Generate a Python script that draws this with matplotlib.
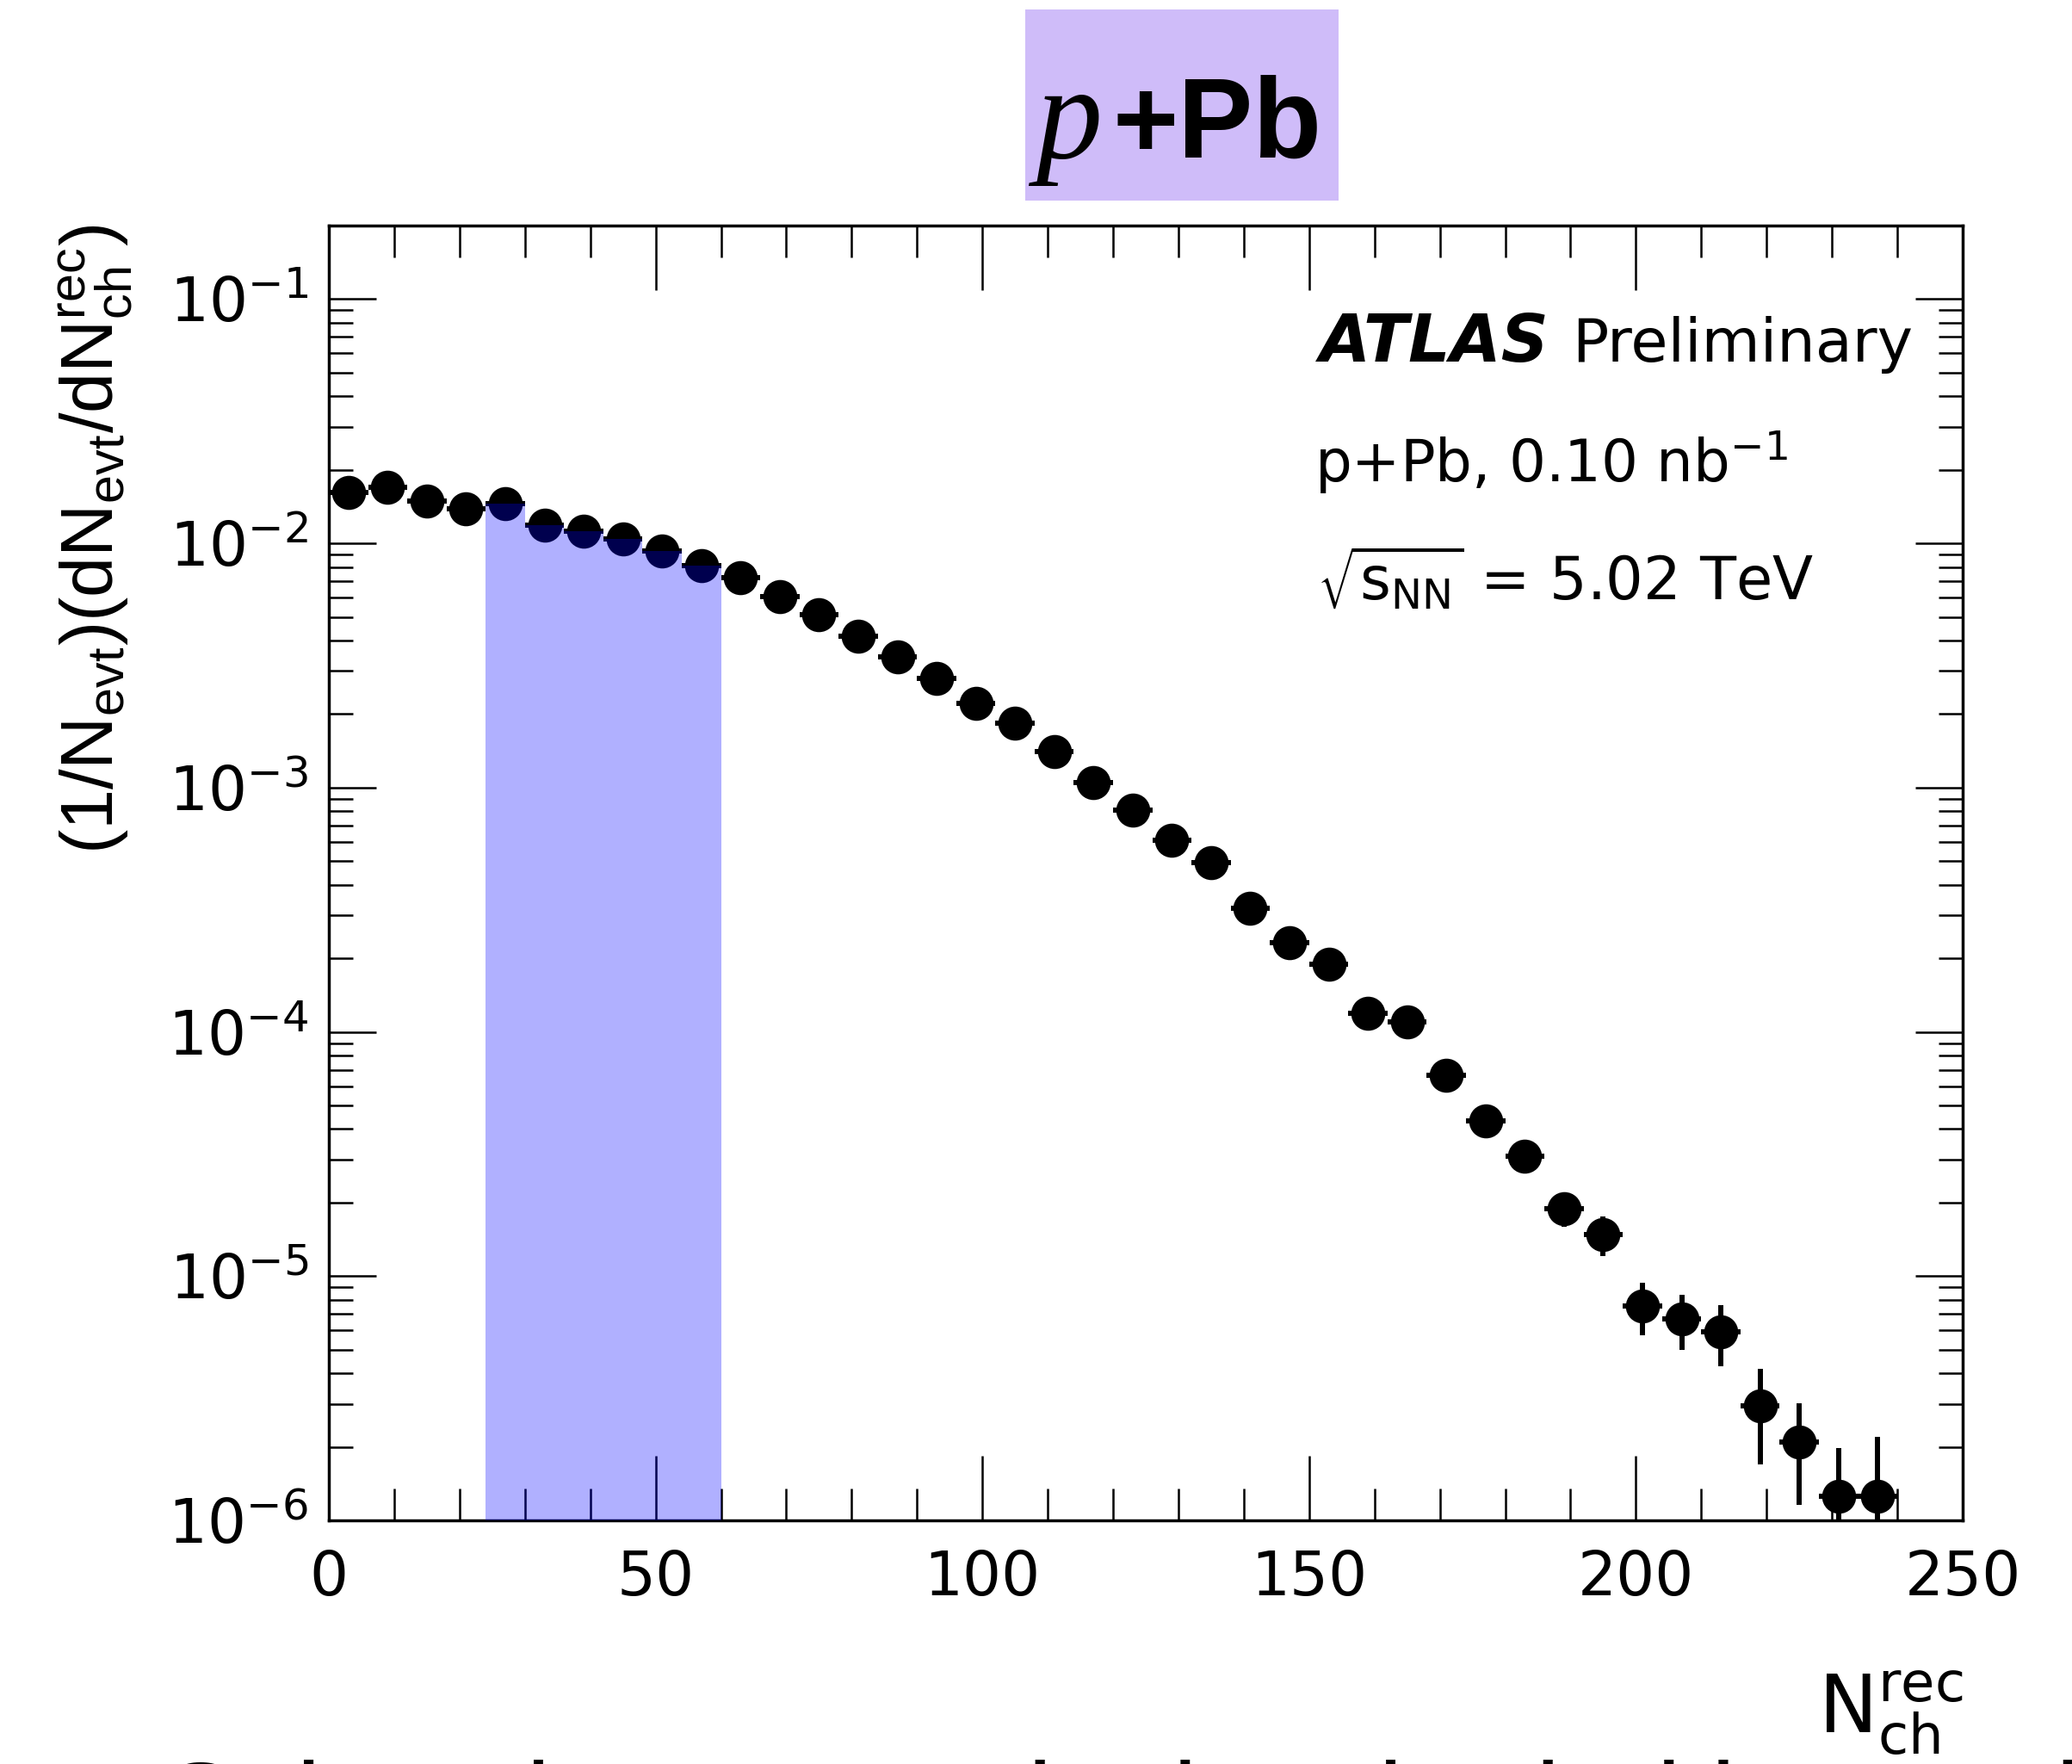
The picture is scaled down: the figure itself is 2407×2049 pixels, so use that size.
import numpy as np
import matplotlib
matplotlib.use("Agg")
import matplotlib.pyplot as plt
from matplotlib.patches import Rectangle
from matplotlib.ticker import MultipleLocator, LogLocator, FuncFormatter, NullFormatter

# ---------------- data ----------------
nch_centers = [3, 9, 15, 21, 27, 33, 39, 45, 51, 57,
               63, 69, 75, 81, 87, 93, 99, 105, 111, 117,
               123, 129, 135, 141, 147, 153, 159, 165, 171, 177,
               183, 189, 195, 201, 207, 213, 219, 225, 231, 237]
density = [1.62e-2, 1.69e-2, 1.49e-2, 1.38e-2, 1.45e-2, 1.19e-2, 1.12e-2, 1.04e-2, 9.27e-3, 8.09e-3,
           7.23e-3, 6.07e-3, 5.10e-3, 4.18e-3, 3.42e-3, 2.81e-3, 2.21e-3, 1.84e-3, 1.41e-3, 1.05e-3,
           8.08e-4, 6.07e-4, 4.91e-4, 3.21e-4, 2.31e-4, 1.89e-4, 1.19e-4, 1.10e-4, 6.64e-5, 4.31e-5,
           3.09e-5, 1.89e-5, 1.48e-5, 7.57e-6, 6.69e-6, 5.93e-6, 2.94e-6, 2.09e-6, 1.26e-6, 1.26e-6]
density_err = [1.0e-4, 1.0e-4, 9.6e-5, 9.2e-5, 9.5e-5, 8.6e-5, 8.3e-5, 8.0e-5, 7.5e-5, 7.0e-5,
               6.6e-5, 6.0e-5, 5.5e-5, 5.0e-5, 4.4e-5, 4.0e-5, 3.5e-5, 3.2e-5, 2.8e-5, 2.4e-5,
               2.1e-5, 1.8e-5, 1.6e-5, 1.3e-5, 1.1e-5, 1.0e-5, 8.0e-6, 7.7e-6, 6.0e-6, 4.7e-6,
               4.0e-6, 3.0e-6, 2.7e-6, 1.85e-6, 1.72e-6, 1.66e-6, 1.24e-6, 0.93e-6, 0.72e-6, 0.93e-6]
bin_halfwidth = 3
band_range = (24, 60)
x_ticks = [0, 50, 100, 150, 200, 250]
y_exponents = [-6, -5, -4, -3, -2, -1]

title_italic = "p"
title_rest = "+Pb"
atlas_label = "ATLAS"
atlas_status = "Preliminary"
info_line1 = r"p+Pb, 0.10 nb$^{-1}$"
info_line2 = r"$\sqrt{\mathrm{s}_{\mathrm{NN}}}$ = 5.02 TeV"
x_title = r"$\mathrm{N}_{\mathrm{ch}}^{\mathrm{rec}}$"
y_title = r"$(1/\mathrm{N}_{\mathrm{evt}})(\mathrm{dN}_{\mathrm{evt}}/\mathrm{dN}_{\mathrm{ch}}^{\mathrm{rec}})$"
caption = "Select the events in the shaded low multiplicity band"

# ---------------- figure ----------------
plt.rcParams["font.family"] = ["DejaVu Sans"]
plt.rcParams["mathtext.fontset"] = "dejavusans"
plt.rcParams["mathtext.rm"] = "Liberation Sans"
plt.rcParams["mathtext.it"] = "Liberation Sans"
plt.rcParams["mathtext.bf"] = "Liberation Sans:bold"

W, H = 2407, 2049
DPI = 100
fig = plt.figure(figsize=(W / DPI, H / DPI), dpi=DPI)
fig.patch.set_facecolor("white")


def fx(x):
    return x / W


def fy(y):
    return 1 - y / H


L, R, T, B = 382, 2280, 262, 1766
ax = fig.add_axes([fx(L), fy(B), (R - L) / W, (B - T) / H])
ax.set_yscale("log")
ax.set_xlim(x_ticks[0], x_ticks[-1])
ax.set_ylim(1e-6, 0.2)

ax.errorbar(nch_centers, density, yerr=density_err, xerr=bin_halfwidth,
            fmt="o", color="black", ms=28.5, mew=0, elinewidth=4.3,
            capsize=0, zorder=3)

# shaded band (histogram-style fill of the selected bins)
band_x = [x for x in nch_centers if band_range[0] < x < band_range[1]]
band_y = [d for x, d in zip(nch_centers, density) if band_range[0] < x < band_range[1]]
band_edges = [x - bin_halfwidth for x in band_x] + [band_x[-1] + bin_halfwidth]
ax.stairs(band_y, band_edges, fill=True, baseline=1e-8, color="#0000ff",
          alpha=0.31, linewidth=0, zorder=4)

# ticks
ax.xaxis.set_major_locator(MultipleLocator(50))
ax.xaxis.set_minor_locator(MultipleLocator(10))
ax.yaxis.set_major_locator(LogLocator(base=10, numticks=20))
ax.yaxis.set_minor_locator(LogLocator(base=10, subs=np.arange(2, 10), numticks=20))
ax.yaxis.set_minor_formatter(NullFormatter())
ax.yaxis.set_major_formatter(FuncFormatter(
    lambda v, p: r"$10^{%d}$" % int(round(np.log10(v)))))
ax.set_xticks(x_ticks)
ax.set_xticklabels([str(t) for t in x_ticks])

ax.tick_params(which="both", direction="in", top=True, right=True, width=1.8,
               color="black")
ax.tick_params(axis="x", which="major", length=54, pad=24, labelsize=51)
ax.tick_params(axis="x", which="minor", length=26.6)
ax.tick_params(axis="y", which="major", length=39.6, pad=17, labelsize=51)
ax.tick_params(axis="y", which="minor", length=20)
for s in ax.spines.values():
    s.set_linewidth(2.5)

# axis titles
fig.text(fx(2281), fy(2013), x_title, fontsize=66, ha="right", va="baseline")
fig.text(fx(111), fy(260), y_title, rotation=90, ha="center", va="top",
         fontsize=61, family="Liberation Sans", math_fontfamily="custom")

# ATLAS labels
fig.text(fx(1533), fy(420), atlas_label, fontsize=55, fontweight="bold",
         fontstyle="italic", va="baseline")
fig.text(fx(1826), fy(420), atlas_status, fontsize=50.5, va="baseline")
fig.text(fx(1527), fy(560), info_line1, fontsize=48.5, va="baseline")
fig.text(fx(1530), fy(697), info_line2, fontsize=49.5, va="baseline")

# title box
fig.add_artist(Rectangle((fx(1191), fy(233)), (1555 - 1191) / W, (233 - 11) / H,
                         transform=fig.transFigure, facecolor="#cfbcf9",
                         edgecolor="none", zorder=0))
fig.text(fx(1203), fy(183), title_italic, family="Liberation Serif",
         fontstyle="italic", fontsize=111, va="baseline", zorder=2)
fig.text(fx(1292), fy(183), title_rest, family="Liberation Sans",
         fontweight="bold", fontsize=94, va="baseline", zorder=2)

# cut-off slide caption at the very bottom (only the tops of the letters show)
fig.text(fx(190), fy(2136), caption, family="Liberation Sans", fontsize=91,
         va="baseline")

fig.savefig("out.png", dpi=DPI)
